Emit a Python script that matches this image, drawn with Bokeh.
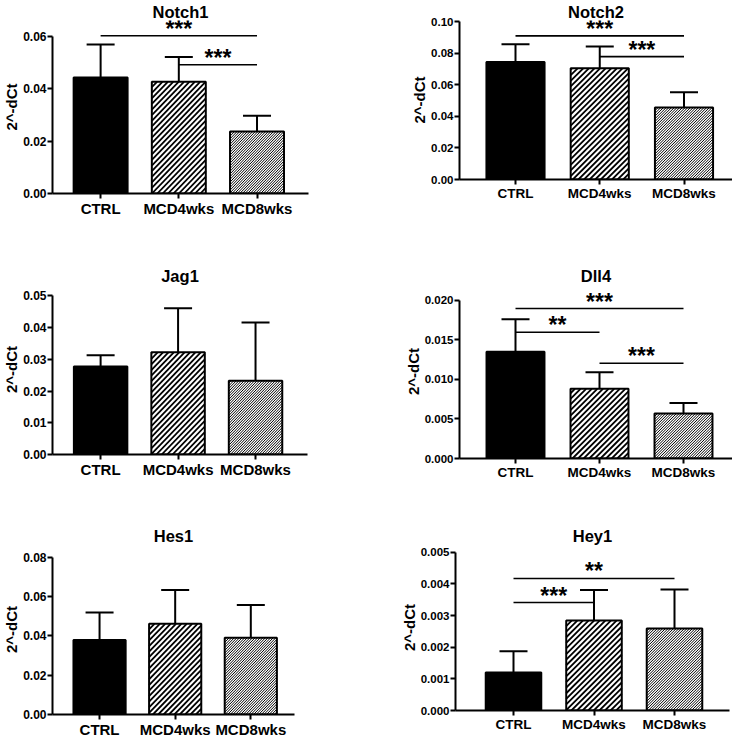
from bokeh.plotting import figure
from bokeh.layouts import column, row
from bokeh.models import (Range1d, FixedTicker, NumeralTickFormatter, ColumnDataSource,
                          Whisker, TeeHead)
from bokeh.core.properties import value
from bokeh.embed import file_html
from bokeh.resources import INLINE

# ---------------- data ----------------
categories = ["CTRL", "MCD4wks", "MCD8wks"]
y_label = "2^-dCt"

notch1_mean = [0.0443, 0.0427, 0.0237]
notch1_err = [0.0126, 0.0095, 0.0060]
notch1_ticks = [0.00, 0.02, 0.04, 0.06]
notch1_sig = [(0, 2, 0.0603, "***"), (1, 2, 0.0492, "***")]

notch2_mean = [0.0744, 0.0704, 0.0456]
notch2_err = [0.0112, 0.0138, 0.0097]
notch2_ticks = [0.00, 0.02, 0.04, 0.06, 0.08, 0.10]
notch2_sig = [(0, 2, 0.0909, "***"), (1, 2, 0.0778, "***")]

jag1_mean = [0.0277, 0.0322, 0.0232]
jag1_err = [0.0036, 0.0139, 0.0184]
jag1_ticks = [0.00, 0.01, 0.02, 0.03, 0.04, 0.05]
jag1_sig = []

dll4_mean = [0.0135, 0.0088, 0.0057]
dll4_err = [0.0041, 0.0021, 0.0013]
dll4_ticks = [0.000, 0.005, 0.010, 0.015, 0.020]
dll4_sig = [(0, 2, 0.01895, "***"), (0, 1, 0.01596, "**"), (1, 2, 0.01204, "***")]

hes1_mean = [0.0380, 0.0462, 0.0391]
hes1_err = [0.0140, 0.0172, 0.0167]
hes1_ticks = [0.00, 0.02, 0.04, 0.06, 0.08]
hes1_sig = []

hey1_mean = [0.00120, 0.00284, 0.00259]
hey1_err = [0.00067, 0.00097, 0.00123]
hey1_ticks = [0.000, 0.001, 0.002, 0.003, 0.004, 0.005]
hey1_sig = [(0, 2, 0.00417, "**"), (0, 1, 0.00341, "***")]

# ---------------- style ----------------
FONT = "Liberation Sans"
bar_fill = ["black", "white", "white"]
hatch_step = [None, 5.6, 2.7]      # px between diagonal lines (None = solid)
hatch_width = [0, 1.8, 1.0]
BAR_W = 0.69

# panel geometry in page px: figure box (fx, fy, fw, fh), frame box (fl, fr, ft, fb),
# top tick position, bar-centre positions of first/last bar
panels = [
    dict(gene="Notch1", mean=notch1_mean, err=notch1_err, ticks=notch1_ticks, fmt="0.00", sig=notch1_sig,
         fx=8, fy=8, fw=362, fh=242, fl=50, fr=316, ft=28, fb=201, toptick_y=44,
         c_first=100, c_last=262.5, cat_fs="15px", tick_fs="12px"),
    dict(gene="Notch2", mean=notch2_mean, err=notch2_err, ticks=notch2_ticks, fmt="0.00", sig=notch2_sig,
         fx=370, fy=8, fw=370, fh=242, fl=467, fr=740, ft=28, fb=187, toptick_y=29,
         c_first=523, c_last=691.5, cat_fs="13.5px", tick_fs="11.5px"),
    dict(gene="Jag1", mean=jag1_mean, err=jag1_err, ticks=jag1_ticks, fmt="0.00", sig=jag1_sig,
         fx=8, fy=250, fw=362, fh=242, fl=50, fr=315, ft=292, fb=462, toptick_y=303.3,
         c_first=100, c_last=261, cat_fs="15px", tick_fs="12px"),
    dict(gene="Dll4", mean=dll4_mean, err=dll4_err, ticks=dll4_ticks, fmt="0.000", sig=dll4_sig,
         fx=370, fy=250, fw=370, fh=242, fl=467, fr=740, ft=292, fb=466, toptick_y=307.7,
         c_first=523, c_last=691, cat_fs="13.5px", tick_fs="11.5px"),
    dict(gene="Hes1", mean=hes1_mean, err=hes1_err, ticks=hes1_ticks, fmt="0.00", sig=hes1_sig,
         fx=8, fy=492, fw=362, fh=256, fl=50, fr=302, ft=552, fb=723, toptick_y=565,
         c_first=99, c_last=256.5, cat_fs="15px", tick_fs="12px"),
    dict(gene="Hey1", mean=hey1_mean, err=hey1_err, ticks=hey1_ticks, fmt="0.000", sig=hey1_sig,
         fx=370, fy=492, fw=370, fh=256, fl=463, fr=737, ft=552, fb=718, toptick_y=559.7,
         c_first=521, c_last=682, cat_fs="13.5px", tick_fs="11.5px"),
]


def hatch_segments(xc, top, w, x_start, s, ppu, step):
    """Diagonal '/' hatch lines inside a bar, computed in screen-pixel space."""
    X0 = (xc - w / 2 - x_start) * s
    X1 = (xc + w / 2 - x_start) * s
    Y0, Y1 = 0.0, top * ppu
    x0s, y0s, x1s, y1s = [], [], [], []
    c = Y0 - X1
    while c < Y1 - X0:
        xa = max(X0, Y0 - c)
        xb = min(X1, Y1 - c)
        if xb > xa:
            x0s.append(xa / s + x_start)
            y0s.append((xa + c) / ppu)
            x1s.append(xb / s + x_start)
            y1s.append((xb + c) / ppu)
        c += step
    return x0s, y0s, x1s, y1s


def make_panel(d):
    ppu = (d["fb"] - d["toptick_y"]) / d["ticks"][-1]
    y_end = (d["fb"] - d["ft"]) / ppu
    s = (d["c_last"] - d["c_first"]) / 2.0
    x_start = 0 - (d["c_first"] - d["fl"]) / s
    x_end = x_start + (d["fr"] - d["fl"]) / s

    p = figure(width=d["fw"], height=d["fh"], output_backend="svg", toolbar_location=None,
               x_range=Range1d(x_start, x_end), y_range=Range1d(0, y_end),
               min_border_left=int(round(d["fl"] - d["fx"])),
               min_border_right=int(round(d["fx"] + d["fw"] - d["fr"])),
               min_border_top=int(round(d["ft"] - d["fy"])),
               min_border_bottom=int(round(d["fy"] + d["fh"] - d["fb"])),
               title=d["gene"])
    p.outline_line_color = None
    p.xgrid.visible = False
    p.ygrid.visible = False
    p.background_fill_color = "white"
    p.border_fill_color = "white"

    p.title.align = "center"
    p.title.text_font = FONT
    p.title.text_font_style = "bold"
    p.title.text_font_size = "16.5px"
    p.title.text_color = "black"
    p.title.standoff = 0

    xs = list(range(len(categories)))
    tops = d["mean"]
    uppers = [m + e for m, e in zip(d["mean"], d["err"])]
    src = ColumnDataSource(dict(x=xs, top=tops, upper=uppers, fill=bar_fill))

    w = Whisker(base="x", upper="upper", lower="top", source=src, dimension="height",
                line_color="black", line_width=2,
                upper_head=TeeHead(size=28, line_width=2, line_color="black"), lower_head=None)
    p.add_layout(w)

    # bar fill
    p.vbar(x="x", top="top", bottom=0, width=BAR_W, source=src,
           fill_color="fill", line_color=None)
    # hatching
    for i, xc in enumerate(xs):
        if hatch_step[i] is None:
            continue
        x0s, y0s, x1s, y1s = hatch_segments(xc, tops[i], BAR_W, x_start, s, ppu, hatch_step[i])
        p.segment(x0=x0s, y0=y0s, x1=x1s, y1=y1s, line_color="black",
                  line_width=hatch_width[i])
    # bar outline
    p.vbar(x="x", top="top", bottom=0, width=BAR_W, source=src,
           fill_color=None, line_color="black", line_width=2)

    for (i, j, yv, lab) in d["sig"]:
        p.segment(x0=[xs[i]], y0=[yv], x1=[xs[j]], y1=[yv], line_color="black", line_width=1.6)
        p.text(x=[(xs[i] + xs[j]) / 2.0], y=[yv], text=[lab], text_font=value(FONT),
               text_font_style="bold", text_font_size="23px", text_align="center",
               text_baseline="alphabetic", y_offset=-7, text_color="black")

    # x axis
    xa = p.xaxis[0]
    xa.ticker = FixedTicker(ticks=xs)
    xa.major_label_overrides = {x: c for x, c in zip(xs, categories)}
    xa.minor_tick_line_color = None
    xa.major_tick_in = 0
    xa.major_tick_out = 5
    xa.major_tick_line_width = 2
    xa.axis_line_width = 2
    xa.major_label_standoff = 1
    xa.major_label_text_font = FONT
    xa.major_label_text_font_style = "bold"
    xa.major_label_text_font_size = d["cat_fs"]
    xa.major_label_text_color = "black"

    # y axis
    ya = p.yaxis[0]
    ya.ticker = FixedTicker(ticks=d["ticks"])
    ya.formatter = NumeralTickFormatter(format=d["fmt"])
    ya.bounds = (0, d["ticks"][-1])
    ya.minor_tick_line_color = None
    ya.major_tick_in = 0
    ya.major_tick_out = 5
    ya.major_tick_line_width = 2
    ya.axis_line_width = 2
    ya.major_label_standoff = 1
    ya.major_label_text_font = FONT
    ya.major_label_text_font_style = "bold"
    ya.major_label_text_font_size = d["tick_fs"]
    ya.major_label_text_color = "black"
    ya.axis_label = y_label
    ya.axis_label_standoff = 0
    ya.axis_label_text_font = FONT
    ya.axis_label_text_font_style = "bold"
    ya.axis_label_text_font_size = "15px"
    ya.axis_label_text_color = "black"
    return p


figs = [make_panel(d) for d in panels]
# each figure in its own box so that frames are not aligned across the grid
layout = column(row(column(figs[0]), column(figs[1])),
                row(column(figs[2]), column(figs[3])),
                row(column(figs[4]), column(figs[5])))

open("out.html", "w").write(file_html(layout, INLINE))
